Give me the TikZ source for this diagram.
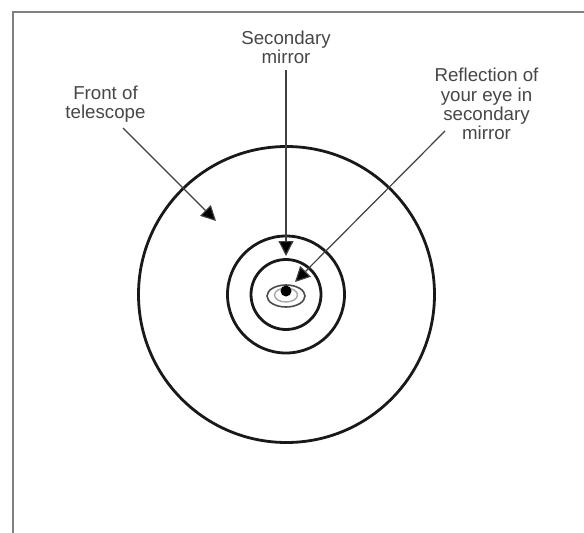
\documentclass[tikz,border=0pt]{standalone}
\usepackage{fontspec}
\setmainfont{Liberation Sans}
\usetikzlibrary{arrows.meta,shapes.geometric}
\tikzset{
  lbl/.style={align=center,text=black!72,inner sep=0pt,font=\fontsize{18.7}{19.3}\selectfont},
  ring/.style={draw=black!90,line width=2.8pt,circle,minimum size=#1,inner sep=0pt},
  eyering/.style={ellipse,inner sep=0pt},
  pointer/.style={draw=black!75,line width=1.2pt,-{Triangle[length=15pt,width=15pt,fill=black]}},
  frameline/.style={draw=black!50,line width=1.4pt},
}
\begin{document}
\begin{tikzpicture}[x=1pt,y=-1pt]
\useasboundingbox (0,0) rectangle (584,533);
\fill[white] (0,0) rectangle (584,533);
\coordinate (fbl) at (13,533);
\coordinate (ftl) at (13,12);
\coordinate (ftr) at (584,12);
\draw[frameline] (fbl) -- (ftl) -- (ftr);
\node[ring=296pt] (outer) at (286.5,294.5) {};
\node[ring=117pt] (middle) at (286,294.5) {};
\node[ring=70pt] (inner) at (286,294.5) {};
\node[eyering,draw=black!70,line width=1.6pt,minimum width=38pt,minimum height=22pt] (eye) at (286,296) {};
\node[eyering,draw=black!35,line width=1.4pt,minimum width=23pt,minimum height=14pt] (iris) at (286,295) {};
\node[fill=black,circle,minimum size=11pt,inner sep=0pt] (pupil) at (286,291) {};
\node[lbl] (sec) at (286,47.5) {Secondary\\mirror};
\node[lbl] (front) at (105.5,104) {Front of\\telescope};
\node[lbl] (refl) at (486.5,104) {Reflection of\\your eye in\\secondary\\mirror};
\coordinate (frontstart) at (123,128);
\coordinate (frontend) at (216,221);
\coordinate (secstart) at (286,70);
\coordinate (secend) at (286,256);
\coordinate (reflstart) at (445,131);
\coordinate (reflend) at (295,282);
\draw[pointer] (frontstart) -- (frontend);
\draw[pointer] (secstart) -- (secend);
\draw[pointer] (reflstart) -- (reflend);
\end{tikzpicture}
\end{document}
